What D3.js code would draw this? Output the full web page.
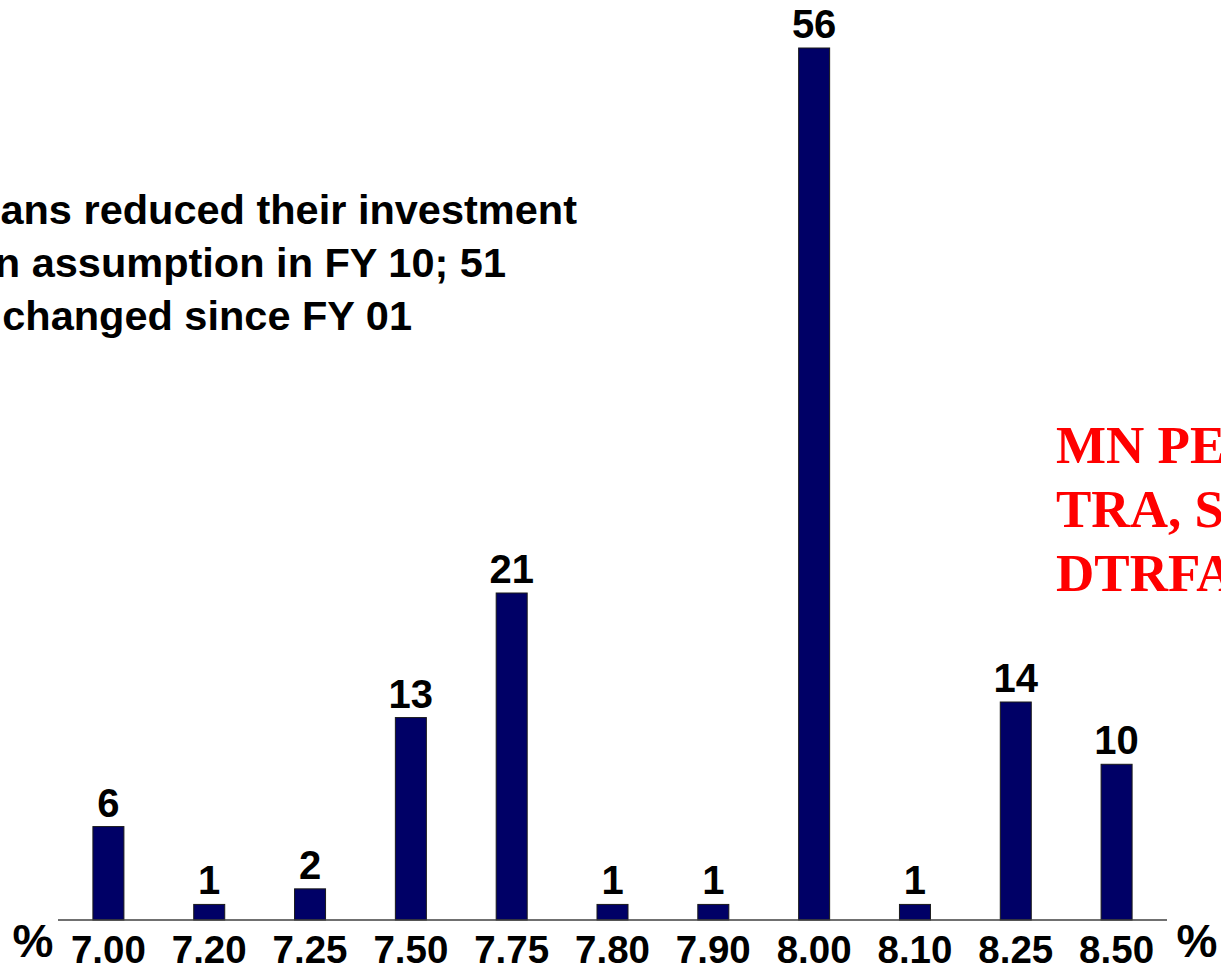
<!DOCTYPE html>
<html>
<head>
<meta charset="utf-8">
<script src="https://cdn.jsdelivr.net/npm/d3@7"></script>
<style>
  html, body { margin: 0; padding: 0; background: #fff; }
  svg { display: block; }
</style>
</head>
<body>
<svg id="chart" width="1221" height="970"></svg>
<script>
// Assumed investment return rates (%) and number of plans at each rate
const categories = ["7.00", "7.20", "7.25", "7.50", "7.75", "7.80", "7.90", "8.00", "8.10", "8.25", "8.50"];
const planCounts = [6, 1, 2, 13, 21, 1, 1, 56, 1, 14, 10];

const noteLines = [
  "ans reduced their investment",
  "n assumption in FY 10; 51",
  "changed since FY 01"
];
const fundLines = ["MN PE", "TRA, S", "DTRFA"];

const svg = d3.select("#chart");
const W = 1221, H = 970;
svg.append("rect").attr("width", W).attr("height", H).attr("fill", "#fff");

const x = d3.scaleBand().domain(categories).range([58, 1167]);
const y = d3.scaleLinear().domain([0, 56]).range([920, 48]);
const barW = 31;

// Bars
svg.append("g").selectAll("rect")
  .data(categories)
  .join("rect")
  .attr("x", (d) => x(d) + x.bandwidth() / 2 - barW / 2)
  .attr("y", (d, i) => y(planCounts[i]))
  .attr("width", barW)
  .attr("height", (d, i) => y(0) - y(planCounts[i]))
  .attr("fill", "#000066")
  .attr("stroke", "#1a1a1a")
  .attr("stroke-width", 1);

// Baseline
svg.append("line")
  .attr("x1", 58).attr("x2", 1167)
  .attr("y1", y(0)).attr("y2", y(0))
  .attr("stroke", "#404040").attr("stroke-width", 1.5);

// Value labels above bars
svg.append("g").selectAll("text")
  .data(categories)
  .join("text")
  .attr("x", (d) => x(d) + x.bandwidth() / 2)
  .attr("y", (d, i) => y(planCounts[i]) - 10)
  .attr("text-anchor", "middle")
  .attr("font-family", "'Liberation Sans', Arial, sans-serif")
  .attr("font-weight", "bold")
  .attr("font-size", 40)
  .attr("fill", "#000")
  .text((d, i) => planCounts[i]);

// Category axis labels
const axis = d3.axisBottom(x).tickSize(0).tickPadding(0);
const gAxis = svg.append("g").attr("transform", `translate(0,${y(0)})`).call(axis);
gAxis.select(".domain").remove();
gAxis.selectAll("text")
  .attr("y", 42.5)
  .attr("dy", null)
  .attr("font-family", "'Liberation Sans', Arial, sans-serif")
  .attr("font-weight", "bold")
  .attr("font-size", 38.5)
  .attr("fill", "#000");

// Percent unit marks at both ends of the axis
[33, 1197].forEach((px) => {
  svg.append("text")
    .attr("x", px).attr("y", 957)
    .attr("text-anchor", "middle")
    .attr("font-family", "'Liberation Sans', Arial, sans-serif")
    .attr("font-weight", "bold")
    .attr("font-size", 46)
    .attr("fill", "#000")
    .text("%");
});

// Note text
const noteRight = [577, 506, 412];
const noteBase = [224, 277, 330];
noteLines.forEach((t, i) => {
  svg.append("text")
    .attr("x", noteRight[i]).attr("y", noteBase[i])
    .attr("text-anchor", "end")
    .attr("font-family", "'Liberation Sans', Arial, sans-serif")
    .attr("font-weight", "bold")
    .attr("font-size", 41.5)
    .attr("fill", "#000")
    .text(t);
});

// Fund names in red
const fundBase = [463, 527, 591];
fundLines.forEach((t, i) => {
  svg.append("text")
    .attr("x", 1056).attr("y", fundBase[i])
    .attr("font-family", "'Liberation Serif', 'Times New Roman', serif")
    .attr("font-weight", "bold")
    .attr("font-size", 53)
    .attr("fill", "#ff0000")
    .text(t);
});
</script>
</body>
</html>
